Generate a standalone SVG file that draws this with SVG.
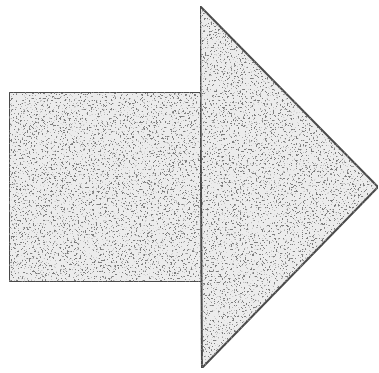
<svg xmlns="http://www.w3.org/2000/svg" width="379" height="373" viewBox="0 0 379 373">
  <defs>
    <filter id="speck" x="0" y="0" width="100%" height="100%" filterUnits="objectBoundingBox">
      <feTurbulence type="fractalNoise" baseFrequency="0.55" numOctaves="2" seed="7" result="n"/>
      <feColorMatrix in="n" type="matrix" values="0 0 0 0 0.2  0 0 0 0 0.2  0 0 0 0 0.2  14 0 0 0 -8.4" result="dots"/>
      <feComposite in="dots" in2="SourceGraphic" operator="in" result="clip"/>
      <feMerge><feMergeNode in="SourceGraphic"/><feMergeNode in="clip"/></feMerge>
    </filter>
  </defs>
  <style>
    .shape { fill: #ececec; stroke: #4a4a4a; stroke-width: 2; filter: url(#speck); }
  </style>
  <rect width="379" height="373" fill="#ffffff"/>
  <g id="arrow">
    <rect class="shape" x="9" y="92" width="194" height="190"/>
    <polygon class="shape" points="200,6 378,187 202,368"/>
  </g>
</svg>
